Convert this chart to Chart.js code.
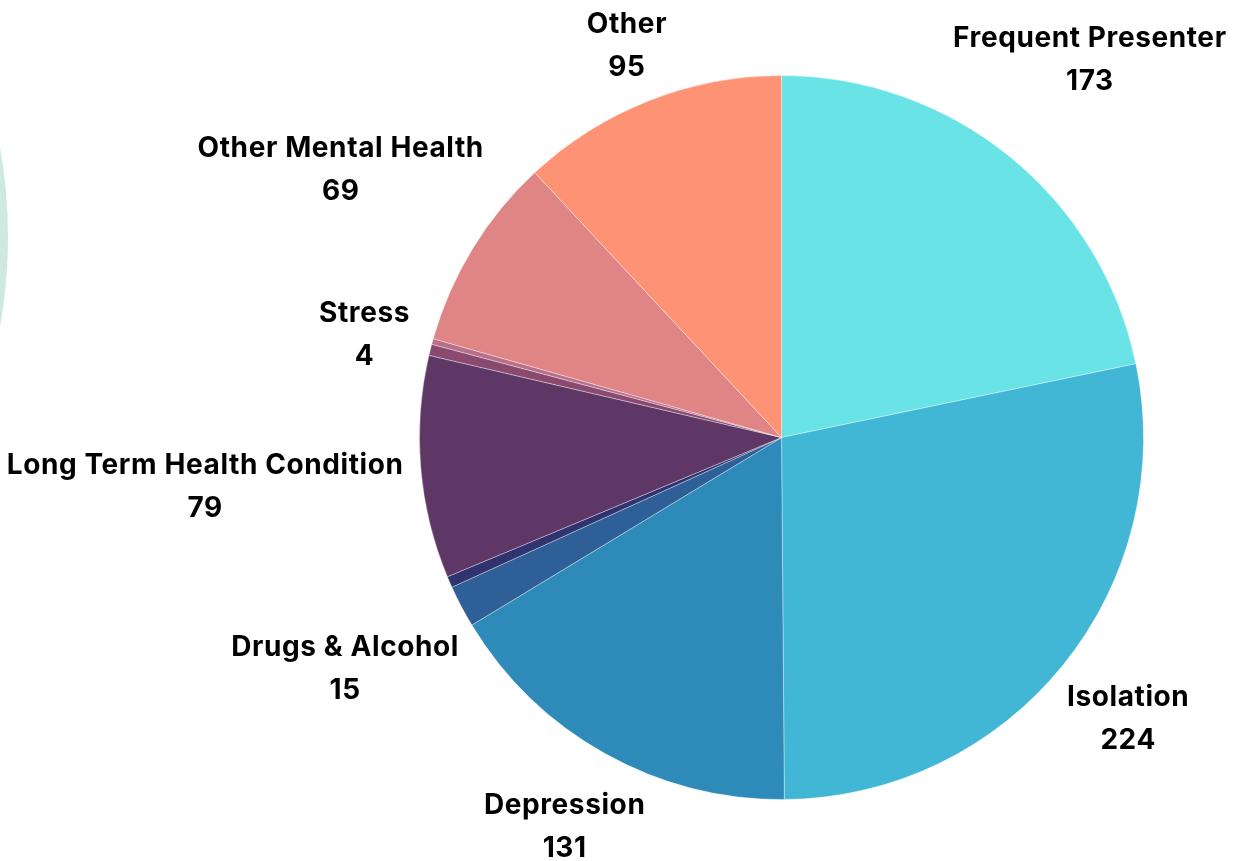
<!DOCTYPE html>
<html>
<head>
<meta charset="utf-8">
<title>Referral reasons</title>
<script src="https://cdn.jsdelivr.net/npm/chart.js@4.4.1/dist/chart.umd.min.js"></script>
<style>
  html, body { margin: 0; padding: 0; background: #fff; overflow: hidden; }
  #wrap { position: relative; width: 1243px; height: 861px; }
  /* soft green shape peeking in from the left edge */
  #blob { position: absolute; left: -1012px; top: -273px; width: 1020px; height: 1020px;
          border-radius: 50%; background: #cfe9e1; }
  canvas { position: absolute; left: 0; top: 0; }
</style>
</head>
<body>
<div id="wrap">
  <div id="blob"></div>
  <canvas id="pieChart" width="1243" height="861"></canvas>
</div>
<script>
// slices go clockwise from 12 o'clock; empty label = small slice drawn without a caption
const categories = ['Frequent Presenter', 'Isolation', 'Depression', 'Drugs & Alcohol', '',
                    'Long Term Health Condition', 'Stress', '', 'Other Mental Health', 'Other'];
const counts = [173, 224, 131, 15, 4, 79, 4, 2, 69, 95];
const sliceColors = ['#6ae3e7', '#42b6d5', '#2e8bb9', '#2f5f97', '#2f3470',
                     '#5e3766', '#8a4a70', '#b96f8b', '#e08585', '#fe9274'];

const FONT = 'bold 28px Inter, "Noto Sans", sans-serif';

// captions sit on each slice's middle ray, pushed out until the text block clears the rim
const outsideLabels = {
    id: 'outsideLabels',
    afterDraw(chart) {
        const ctx = chart.ctx;
        const meta = chart.getDatasetMeta(0);
        const lineGap = 43, capH = 20, blockH = lineGap + capH;
        ctx.save();
        ctx.font = FONT;
        ctx.letterSpacing = '0.6px';
        ctx.fillStyle = '#000';
        ctx.textAlign = 'center';
        ctx.textBaseline = 'alphabetic';
        meta.data.forEach((arc, i) => {
            const name = chart.data.labels[i];
            if (!name) return;
            const p = arc.getProps(['x', 'y', 'startAngle', 'endAngle', 'outerRadius'], true);
            const mid = (p.startAngle + p.endAngle) / 2;
            const dx = Math.cos(mid), dy = Math.sin(mid);
            const value = String(chart.data.datasets[0].data[i]);
            const w = Math.max(ctx.measureText(name).width, ctx.measureText(value).width);
            const d = p.outerRadius + 16 + Math.abs(dx) * w / 2 + Math.abs(dy) * blockH / 2;
            const cx = p.x + dx * d, cy = p.y + dy * d;
            ctx.fillText(name, cx, cy - blockH / 2 + capH);
            ctx.fillText(value, cx, cy + blockH / 2);
        });
        ctx.restore();
    }
};

new Chart(document.getElementById('pieChart').getContext('2d'), {
    type: 'pie',
    data: {
        labels: categories,
        datasets: [{
            data: counts,
            backgroundColor: sliceColors,
            borderColor: 'rgba(255,255,255,0.35)',
            borderWidth: 1
        }]
    },
    options: {
        responsive: false,
        animation: false,
        layout: { padding: { left: 419, right: 99, top: 75, bottom: 61 } },
        plugins: { legend: { display: false }, tooltip: { enabled: false } }
    },
    plugins: [outsideLabels]
});
</script>
</body>
</html>
